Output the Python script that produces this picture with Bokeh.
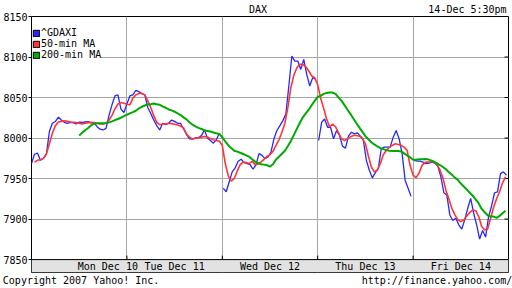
import numpy as np
from bokeh.plotting import figure
from bokeh.models import Range1d, FixedTicker, LinearAxis, Legend, LegendItem, Span
from bokeh.core.properties import value
from bokeh.embed import file_html
from bokeh.resources import INLINE

# ---------------- data ----------------
STEP = 1 / 32  # sampling step, in trading days

series_names = ["^GDAXI", "50-min MA", "200-min MA"]
header_texts = ["DAX", "14-Dec 5:30pm"]
header_pos = [2.375, 4.57]
footer_texts = ["Copyright 2007 Yahoo! Inc.", "http://finance.yahoo.com/"]
footer_pos = [0.52, 4.25]

day_ticks = [0, 1, 2, 3, 4, 5]
day_labels = ["Mon Dec 10", "Tue Dec 11", "Wed Dec 12", "Thu Dec 13", "Fri Dec 14"]
day_label_pos = [0.8, 1.5, 2.5, 3.5, 4.5]
y_ticks = [7850, 7900, 7950, 8000, 8050, 8100, 8150]

# ^GDAXI price, one list per trading session, with session start (days)
blue_starts = [0.0, 2.01, 3.01, 4.01]
blue_mon_tue = [7968.4, 7980.0, 7981.4, 7972.6, 7975.0, 7980.0, 8008.0, 8018.2, 8020.4, 8025.8,
                8022.2, 8019.4, 8018.2, 8019.4, 8019.0, 8017.4, 8019.6, 8019.4, 8019.8, 8020.2,
                8018.8, 8018.7, 8014.0, 8011.0, 8010.0, 8012.0, 8028.0, 8041.0, 8052.0, 8053.3,
                8035.7, 8031.6, 8042.0, 8052.0, 8053.3, 8059.0, 8057.3, 8054.9, 8053.3, 8037.8,
                8030.4, 8022.2, 8015.3, 8010.0, 8018.2, 8016.5, 8018.2, 8022.2, 8020.6, 8018.2,
                8018.2, 8011.2, 8004.3, 7999.0, 7998.6, 8000.2, 8000.2, 8003.0, 8010.0, 8000.2,
                7997.0, 7993.7, 7997.8, 8006.0]
blue_wed = [7937.9, 7933.8, 7946.0, 7958.3, 7963.2, 7971.3, 7973.8, 7969.7, 7968.5, 7967.2,
            7961.5, 7967.2, 7980.7, 7978.7, 7974.6, 7976.6, 7982.7, 7999.0, 8009.3, 8015.4,
            8021.5, 8029.7, 8064.3, 8101.0, 8095.0, 8095.0, 8084.7, 8097.0, 8078.6, 8064.3,
            8074.5, 8072.5]
blue_thu = [7997.0, 8019.4, 8023.5, 8013.3, 8013.3, 7999.0, 8009.2, 8003.1, 7990.0, 7987.6,
            8002.3, 8007.2, 8005.1, 8006.4, 8002.3, 7997.0, 7972.5, 7960.3, 7950.9, 7957.4,
            7962.3, 7986.8, 7988.8, 7988.8, 7988.8, 8001.1, 8009.2, 7999.0, 7980.7, 7948.0,
            7938.0, 7928.0]
blue_fri = [7972.4, 7971.6, 7971.6, 7970.4, 7968.4, 7969.2, 7970.4, 7969.2, 7965.1, 7952.1,
            7932.5, 7929.6, 7905.1, 7898.2, 7901.1, 7892.9, 7887.6, 7899.0, 7913.3, 7925.5,
            7907.2, 7892.9, 7875.4, 7886.0, 7877.8, 7903.1, 7916.2, 7932.5, 7933.7, 7956.1,
            7958.2, 7954.1]

# 50-minute moving average (from t = 0, same step)
ma50 = [None, 7970.4, 7972.5, 7973.3, 7974.9, 7980.6, 7992.9, 8005.9, 8015.3, 8019.8,
        8020.6, 8021.4, 8020.6, 8019.8, 8019.4, 8019.0, 8018.2, 8017.4, 8018.2, 8019.0,
        8019.4, 8019.0, 8018.2, 8017.4, 8017.4, 8018.2, 8022.0, 8028.0, 8036.0, 8042.0,
        8043.9, 8043.0, 8041.8, 8041.0, 8049.2, 8053.3, 8054.9, 8054.9, 8053.3, 8045.9,
        8037.8, 8027.6, 8019.4, 8016.5, 8017.4, 8017.4, 8018.2, 8017.8, 8017.0, 8016.1,
        8014.9, 8012.5, 8005.1, 8001.0, 7999.0, 7999.8, 8000.2, 8001.0, 8001.9, 8001.0,
        7999.4, 7997.8, 7997.0, 7996.1, 7990.9, 7968.5, 7953.4, 7946.8, 7950.1, 7959.1,
        7967.2, 7970.5, 7969.7, 7968.5, 7971.3, 7967.2, 7968.1, 7970.5, 7973.8, 7977.4,
        7979.5, 7983.6, 7990.9, 7997.8, 8007.2, 8018.6, 8037.8, 8062.3, 8077.4, 8086.8,
        8090.9, 8090.9, 8088.0, 8082.7, 8076.6, 8074.5, 8066.0, 8049.0, 8036.6, 8023.5,
        8013.7, 8017.4, 8013.7, 8006.4, 7999.0, 7997.0, 7999.0, 8001.5, 8003.1, 8003.1,
        8002.3, 7999.8, 7992.9, 7977.8, 7964.3, 7958.2, 7960.7, 7968.4, 7979.4, 7984.7,
        7988.4, 7990.9, 7992.9, 7992.1, 7990.9, 7988.8, 7984.7, 7966.0, 7954.1, 7951.2,
        7956.9, 7966.3, 7970.0, 7970.4, 7970.4, 7970.4, 7967.6, 7961.0, 7950.8, 7935.7,
        7924.7, 7913.3, 7905.5, 7899.0, 7897.0, 7898.6, 7903.9, 7908.0, 7911.3, 7910.4,
        7903.1, 7890.9, 7886.4, 7887.6, 7901.1, 7914.5, 7925.1, 7933.7, 7944.7, 7952.1]

# 200-minute moving average (from t = 0, same step)
ma200 = [None] * 16 + [
    8003.0, 8006.7, 8009.6, 8012.4, 8015.7, 8017.7, 8018.2, 8018.2, 8018.2, 8018.6,
    8019.4, 8020.6, 8022.2, 8023.5, 8025.1, 8027.1, 8028.8, 8030.4, 8032.0, 8033.7,
    8036.5, 8038.6, 8040.2, 8041.4, 8041.8, 8042.7, 8041.8, 8041.0, 8039.0, 8037.4,
    8035.3, 8034.1, 8032.5, 8030.4, 8028.4, 8025.5, 8023.1, 8019.4, 8016.5, 8014.5,
    8012.5, 8011.2, 8009.6, 8008.8, 8008.0, 8006.8, 8005.9, 8005.1, 8001.0, 7995.7,
    7991.2, 7987.6, 7984.4, 7983.2, 7981.9, 7980.3, 7978.7, 7977.0, 7973.8, 7970.9,
    7968.9, 7967.6, 7967.2, 7966.4, 7964.8, 7967.6, 7973.4, 7977.0, 7980.7, 7984.4,
    7990.1, 7996.2, 8003.9, 8011.3, 8018.6, 8025.6, 8030.5, 8035.0, 8040.7, 8046.0,
    8050.9, 8052.1, 8054.5, 8055.7, 8056.1, 8056.1, 8054.5, 8050.0, 8045.9, 8040.6,
    8034.9, 8029.6, 8023.9, 8018.2, 8012.9, 8007.6, 8002.3, 7998.6, 7994.9, 7992.1,
    7989.6, 7987.6, 7986.4, 7985.1, 7984.3, 7983.9, 7983.9, 7983.9, 7983.5, 7981.1,
    7978.6, 7976.2, 7973.3, 7973.3, 7973.7, 7973.7, 7974.1, 7973.7, 7972.5, 7970.8,
    7968.8, 7966.7, 7964.3, 7961.4, 7957.8, 7954.9, 7951.2, 7948.4, 7943.9, 7940.2,
    7936.6, 7932.5, 7928.8, 7924.3, 7919.4, 7912.5, 7908.4, 7904.7, 7903.1, 7903.1,
    7901.5, 7903.9, 7907.2, 7910.4]

# ---------------- styling ----------------
BLUE, RED, GREEN = "#2626ff", "#ff3535", "#00aa00"
GRID = "#a6a6a6"
BAND = "#e2e2e2"
FONT = "DejaVu Sans Mono"
FS = "10px"

W, H = 512, 288
LEFT, RIGHT, TOP, BOTTOM = 28, 4, 15, 15   # borders around the frame (px)
BAND_PX = 13                              # date band height inside frame
PLOT_PX = H - TOP - BOTTOM - BAND_PX      # px for the value range
y_lo, y_hi = y_ticks[0], y_ticks[-1]
UNIT = PLOT_PX / (y_hi - y_lo)            # px per index point
x_lo, x_hi = day_ticks[0], day_ticks[-1]
DAYPX = (W - LEFT - RIGHT) / (x_hi - x_lo)
y_band = y_lo - BAND_PX / UNIT

p = figure(width=W, height=H, output_backend="svg", toolbar_location=None,
           x_range=Range1d(x_lo, x_hi), y_range=Range1d(y_band, y_hi),
           x_axis_location=None, y_axis_location="left",
           min_border_left=LEFT, min_border_right=RIGHT,
           min_border_top=TOP, min_border_bottom=BOTTOM,
           background_fill_color="white", border_fill_color="white")
p.outline_line_color = "black"
p.outline_line_width = 1

# grids
p.xgrid.ticker = FixedTicker(ticks=day_ticks[1:-1])
p.ygrid.ticker = FixedTicker(ticks=y_ticks)
for g in (p.xgrid, p.ygrid):
    g.grid_line_color = GRID
    g.grid_line_width = 1

# left axis
ya = p.yaxis[0]
ya.ticker = FixedTicker(ticks=y_ticks)
ya.axis_line_color = None
ya.major_tick_out = 3
ya.major_tick_in = 0
ya.major_tick_line_color = "black"
ya.minor_tick_line_color = None
ya.major_label_standoff = 1
ya.major_label_text_font = FONT
ya.major_label_text_font_size = FS
ya.major_label_text_color = "black"


def text_axis(ticks, texts, standoff):
    return LinearAxis(ticker=FixedTicker(ticks=ticks),
                      major_label_overrides=dict(zip(ticks, texts)),
                      axis_line_color=None, major_tick_line_color=None,
                      minor_tick_line_color=None, major_tick_in=0, major_tick_out=0,
                      major_label_standoff=standoff, major_label_text_font=FONT,
                      major_label_text_font_size=FS, major_label_text_color="black")


p.add_layout(text_axis(header_pos, header_texts, 2), "above")
p.add_layout(text_axis(footer_pos, footer_texts, 2), "below")

# date band
p.quad(left=[x_lo], right=[x_hi], bottom=[y_band], top=[y_lo],
       fill_color=BAND, line_color=None)
p.add_layout(Span(location=y_lo, dimension="width", line_color="black", line_width=1))
p.segment(x0=day_ticks[1:-1], x1=day_ticks[1:-1], y0=y_lo, y1=y_lo + 4 / UNIT,
          line_color="black", line_width=1)
# inward ticks on the right edge
p.segment(x0=[x_hi - 4 / DAYPX] * (len(y_ticks) - 2), x1=[x_hi] * (len(y_ticks) - 2),
          y0=y_ticks[1:-1], y1=y_ticks[1:-1], line_color="black", line_width=1)
p.text(x=day_label_pos, y=[(y_band + y_lo) / 2] * len(day_labels), text=day_labels,
       text_font=value(FONT), text_font_size=FS, text_align="center",
       text_baseline="middle", text_color="black")

# series
for start, vals in zip(blue_starts, [blue_mon_tue, blue_wed, blue_thu, blue_fri]):
    t = start + np.arange(len(vals)) * STEP
    p.line(t, vals, line_color=BLUE, line_width=1.3)

t_all = np.arange(len(ma50)) * STEP
p.line(t_all, np.array(ma50, dtype=float), line_color=RED, line_width=1.6)
t_all2 = np.arange(len(ma200)) * STEP
p.line(t_all2, np.array(ma200, dtype=float), line_color=GREEN, line_width=2)

# legend (square swatches; swatch renderers hold no visible data)
items = []
for name, col in zip(series_names, [BLUE, RED, GREEN]):
    r = p.quad(left=[np.nan], right=[np.nan], top=[np.nan], bottom=[np.nan],
               fill_color=col, line_color="black", line_width=1)
    items.append(LegendItem(label=name, renderers=[r], index=0))
legend = Legend(items=items, location=(1, H - BOTTOM - TOP - 46), orientation="vertical",
                padding=0, spacing=0, margin=0, glyph_width=8, glyph_height=8,
                label_height=11, label_standoff=1, label_text_font=FONT,
                label_text_font_size=FS, label_text_color="black",
                background_fill_color="white", background_fill_alpha=1.0,
                border_line_color=None)
p.add_layout(legend)

open("out.html", "w").write(file_html(p, INLINE))
